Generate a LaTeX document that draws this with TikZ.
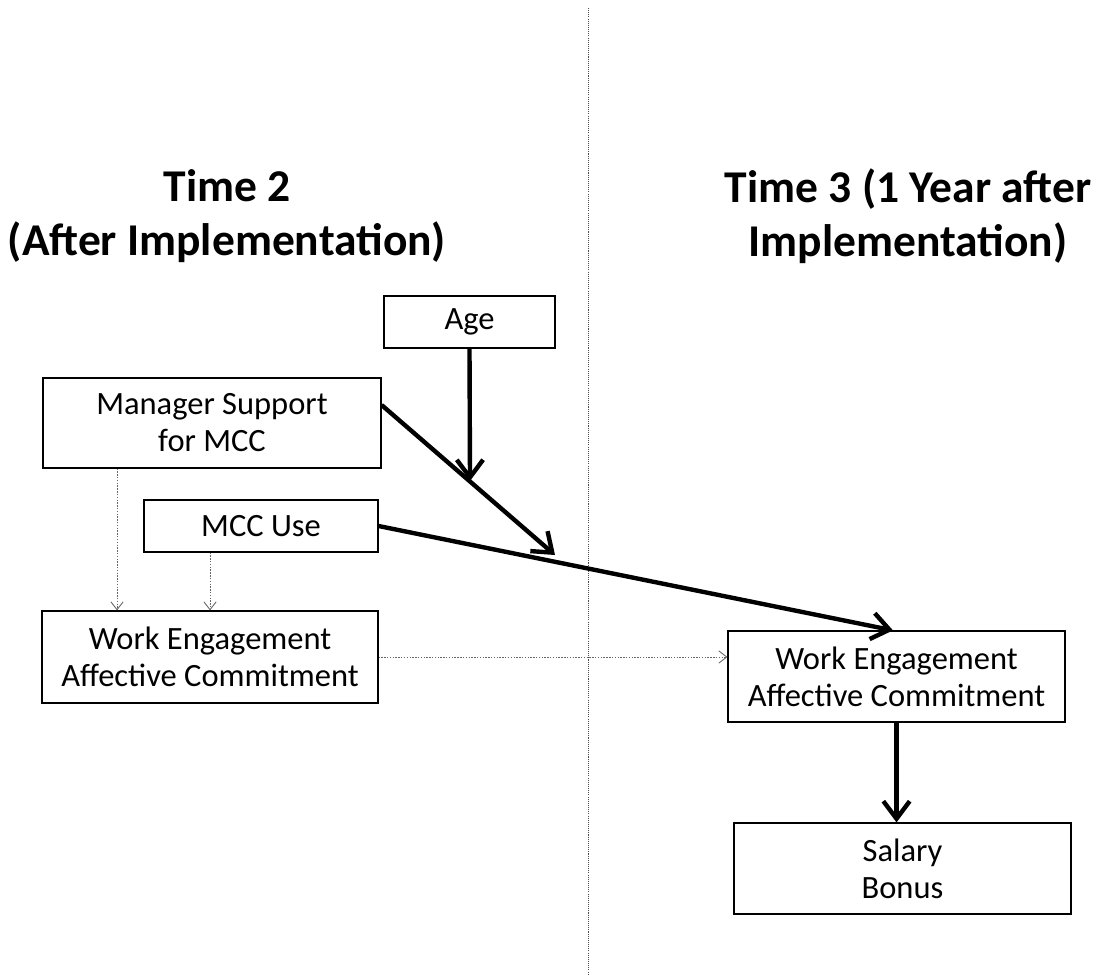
\documentclass[tikz,border=0pt]{standalone}
\usepackage{fontspec}
\setmainfont{Carlito}
\usetikzlibrary{arrows.meta}
\tikzset{
    box/.style={draw, line width=0.7pt, align=center, inner sep=0pt, font=\fontsize{18.5}{21}\selectfont}, % 方框样式
    strong/.style={line width=2.5pt, -{Straight Barb[length=10pt, width=15pt]}}, % 粗箭头
    weak/.style={black!60, line width=0.5pt, dash pattern=on 0.8pt off 0.8pt, -{Straight Barb[length=4.5pt, width=7pt]}}, % 细虚线箭头
    heading/.style={align=center, font=\bfseries\fontsize{25.9}{31}\selectfont} % 标题样式
}

\begin{document}
\begin{tikzpicture}[x=0.02cm, y=-0.02cm]
    \useasboundingbox (0,0) rectangle (1115,974);
    \def\xsep{588}

    \draw[black!70, line width=0.55pt, dash pattern=on 0.6pt off 0.6pt] (\xsep, 8) -- (\xsep, 974);

    \node[heading] (t2) at (227, 216) {Time 2\\(After Implementation)};
    \node[heading] (t3) at (908, 216) {Time 3 (1 Year after\\Implementation)};

    \node[box, minimum width=3.42cm, minimum height=1.04cm] (age) at (469.5, 322) {Age};
    \node[box, minimum width=6.76cm, minimum height=1.80cm] (man) at (212, 423) {Manager Support\\for MCC};
    \node[box, minimum width=4.68cm, minimum height=1.04cm] (use) at (261, 526) {MCC Use};
    \node[box, minimum width=6.72cm, minimum height=1.84cm] (wel) at (210, 657) {Work Engagement\\Affective Commitment};
    \node[box, minimum width=6.74cm, minimum height=1.82cm] (wer) at (896.5, 676.5) {Work Engagement\\Affective Commitment};
    \node[box, minimum width=6.74cm, minimum height=1.82cm] (sal) at (902.5, 868.5) {Salary\\Bonus};

    \coordinate (mod) at (555, 555);
    \coordinate (hit) at (470, 481);

    \draw[strong] ([yshift=0.36cm]man.east) -- (mod);
    \draw[strong] (age.south) -- (hit);
    \draw[strong] (use.east) -- ([xshift=-0.07cm]wer.north);
    \draw[strong] (wer.south) -- (wer.south |- sal.north);

    \draw[weak] ([xshift=-1.9cm]man.south) -- ([xshift=-1.9cm]man.south |- wel.north);
    \draw[weak] ([xshift=-1.02cm]use.south) -- ([xshift=-1.02cm]use.south |- wel.north);
    \draw[weak] (wel.east) -- (wel.east -| wer.west);
\end{tikzpicture}
\end{document}
